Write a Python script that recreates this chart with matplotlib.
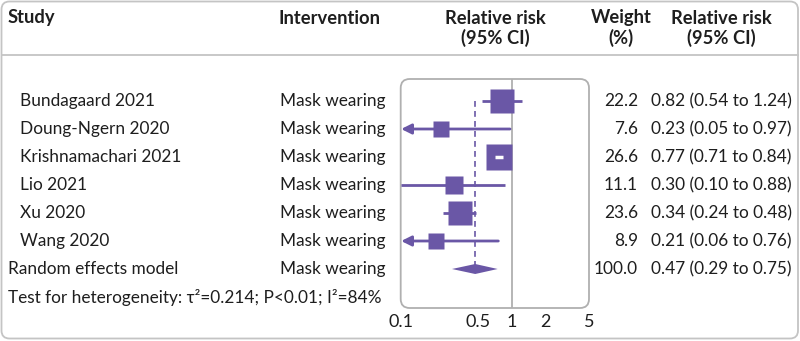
import matplotlib
matplotlib.use('Agg')
import matplotlib.pyplot as plt
import numpy as np
from matplotlib.patches import FancyBboxPatch

plt.rcParams['font.family'] = ['Lato', 'DejaVu Sans']

studies = ['Bundagaard 2021', 'Doung-Ngern 2020', 'Krishnamachari 2021',
           'Lio 2021', 'Xu 2020', 'Wang 2020']
intervention = 'Mask wearing'
rr = [0.82, 0.23, 0.77, 0.30, 0.34, 0.21]
lower = [0.54, 0.05, 0.71, 0.10, 0.24, 0.06]
upper = [1.24, 0.97, 0.84, 0.88, 0.48, 0.76]
weights = [22.2, 7.6, 26.6, 11.1, 23.6, 8.9]

pooled_rr = 0.47
pooled_lo = 0.29
pooled_hi = 0.75
pooled_label = 'Random effects model'
het_text = 'Test for heterogeneity: τ²=0.214; P<0.01; I²=84%'
xticks = [0.1, 0.5, 1, 2, 5]
xticklabels = ['0.1', '0.5', '1', '2', '5']

purple = '#6a57a6'
txt = '#1e1e1e'
grey = '#b0b0b0'
fs = 12.4
hfs = 13.2

W, H = 800, 341
fig = plt.figure(figsize=(W / 100, H / 100), dpi=100)

# overlay in pixel units for the table text and frames
bg = fig.add_axes([0, 0, 1, 1], zorder=0)
bg.set_xlim(0, W)
bg.set_ylim(H, 0)
bg.axis('off')

bg.add_patch(FancyBboxPatch((1.5, 1.5), W - 3.5, H - 4, boxstyle='round,pad=0,rounding_size=8',
                            fc='white', ec='#c4c4c4', lw=1.3))
bg.plot([1.5, W - 2], [55, 55], color='#c4c4c4', lw=1.3)

# header
hy1, hy2 = 18, 38
hkw = dict(fontsize=hfs, weight='bold', color=txt, va='center')
bg.text(8, hy1, 'Study', **hkw)
bg.text(278, hy1, 'Intervention', **hkw)
bg.text(495, hy1, 'Relative risk', ha='center', **hkw)
bg.text(495, hy2, '(95% CI)', ha='center', **hkw)
bg.text(621, hy1, 'Weight', ha='center', **hkw)
bg.text(621, hy2, '(%)', ha='center', **hkw)
bg.text(721, hy1, 'Relative risk', ha='center', **hkw)
bg.text(721, hy2, '(95% CI)', ha='center', **hkw)

row0, step = 101, 28
rows = [row0 + step * i for i in range(len(studies))]
pooled_y = row0 + step * len(studies)
het_y = pooled_y + step

for i, s in enumerate(studies):
    y = rows[i]
    bg.text(20, y, s, fontsize=fs, color=txt, va='center')
    bg.text(280, y, intervention, fontsize=fs, color=txt, va='center')
    bg.text(638, y, f'{weights[i]:.1f}', fontsize=fs, color=txt, va='center', ha='right')
    bg.text(651, y, f'{rr[i]:.2f} ({lower[i]:.2f} to {upper[i]:.2f})', fontsize=fs, color=txt, va='center')

bg.text(8, pooled_y, pooled_label, fontsize=fs, color=txt, va='center')
bg.text(280, pooled_y, intervention, fontsize=fs, color=txt, va='center')
bg.text(638, pooled_y, f'{sum(weights):.1f}', fontsize=fs, color=txt, va='center', ha='right')
bg.text(651, pooled_y, f'{pooled_rr:.2f} ({pooled_lo:.2f} to {pooled_hi:.2f})', fontsize=fs, color=txt, va='center')
bg.text(8, het_y, het_text, fontsize=fs, color=txt, va='center')

# forest panel
px0, px1, py0, py1 = 400.7, 589, 79, 308
bg.add_patch(FancyBboxPatch((px0, py0), px1 - px0, py1 - py0, boxstyle='round,pad=0,rounding_size=9',
                            fc='white', ec=grey, lw=1.3))

ax = fig.add_axes([px0 / W, 1 - py1 / H, (px1 - px0) / W, (py1 - py0) / H], zorder=1)
ax.patch.set_visible(False)
for sp in ax.spines.values():
    sp.set_visible(False)
ax.set_xscale('log')
ax.set_xlim(0.1, 5)
ax.set_ylim(py1, py0)
ax.set_yticks([])
ax.set_xticks(xticks)
ax.set_xticklabels(xticklabels)
ax.xaxis.set_minor_locator(matplotlib.ticker.FixedLocator([0.5, 2]))
ax.xaxis.set_minor_formatter(matplotlib.ticker.NullFormatter())
ax.tick_params(axis='x', which='major', length=0, labelsize=13, labelcolor=txt, pad=4)
ax.tick_params(axis='x', which='minor', length=4, direction='in', color=grey, width=1.2)

ax.axvline(1, color=grey, lw=1.3, zorder=1)
ax.plot([pooled_rr, pooled_rr], [rows[0], pooled_y], color=purple, lw=1.2,
        dashes=(3.5, 2.5), zorder=2)

px_per_dec = (px1 - px0) / (np.log10(5) - np.log10(0.1))
for i in range(len(studies)):
    y = rows[i]
    side = 12 + 0.55 * weights[i]
    if lower[i] < 0.1:
        ax.annotate('', xy=(0.101, y), xytext=(upper[i], y),
                    arrowprops=dict(arrowstyle='-|>,head_length=0.6,head_width=0.3',
                                    color=purple, lw=2, shrinkA=0, shrinkB=0), zorder=3)
    else:
        ax.plot([lower[i], upper[i]], [y, y], color=purple, lw=2, solid_capstyle='butt', zorder=3)
    ax.plot(rr[i], y, marker='s', ms=side * 0.72, color=purple, mec='none', zorder=4)
    half = side / 2 / px_per_dec
    if np.log10(lower[i]) > np.log10(rr[i]) - half and np.log10(upper[i]) < np.log10(rr[i]) + half:
        ax.plot([lower[i], upper[i]], [y, y], color='white', lw=2.5, solid_capstyle='butt', zorder=5)

ax.fill([pooled_lo, pooled_rr, pooled_hi, pooled_rr],
        [pooled_y, pooled_y - 5, pooled_y, pooled_y + 5], color=purple, lw=0, zorder=4)

fig.savefig('out.png', dpi=100)
